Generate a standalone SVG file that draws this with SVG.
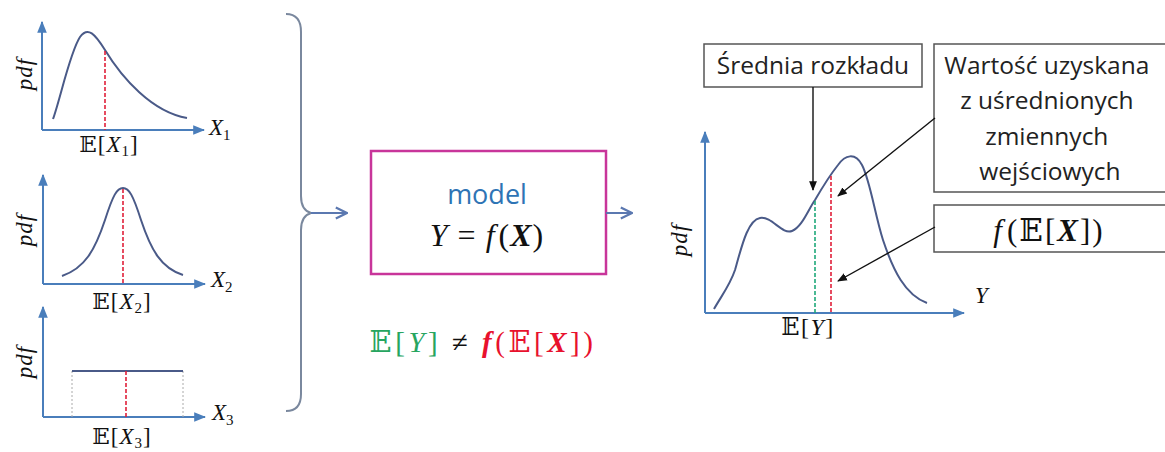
<svg xmlns="http://www.w3.org/2000/svg" width="1165" height="452" viewBox="0 0 1165 452">
<defs>
<marker id="ab" viewBox="0 0 10 10" refX="9" refY="5" markerWidth="6" markerHeight="6" orient="auto"><path d="M0,1 L10,5 L0,9 z" fill="#4a7ebb"/></marker>
<marker id="ao" viewBox="0 0 10 10" refX="9" refY="5" markerWidth="7" markerHeight="7" orient="auto"><path d="M1,1 L9,5 L1,9" fill="none" stroke="#5b78b0" stroke-width="1.6"/></marker>
<marker id="ak" viewBox="0 0 10 10" refX="9" refY="5" markerWidth="7" markerHeight="7" orient="auto"><path d="M0,1 L10,5 L0,9 z" fill="#111"/></marker>
</defs>
<style>
.ax{stroke:#4a7ebb;stroke-width:2;fill:none;marker-end:url(#ab)}
.cv{stroke:#4a5a88;stroke-width:2;fill:none}
.rd{stroke:#e0203a;stroke-width:1.6;stroke-dasharray:4,2;fill:none}
.gd{stroke:#1fa87a;stroke-width:1.6;stroke-dasharray:4,2;fill:none}
.m{font-family:"Liberation Serif","DejaVu Serif",serif;fill:#111}
.mi{font-family:"Liberation Serif","DejaVu Serif",serif;font-style:italic;fill:#111}
.bb{font-family:"DejaVu Serif","DejaVu Sans",serif;fill:#111}
.lb{font-family:"Open Sans","Liberation Sans",sans-serif;fill:#222}
.bx{fill:#fff;stroke:#555;stroke-width:1.5}
.ck{stroke:#111;stroke-width:1.4;fill:none;marker-end:url(#ak)}
</style>
<rect width="1165" height="452" fill="#fff"/>

<g id="plot1">
<path class="ax" d="M42,130 V22"/>
<path class="ax" d="M42,130 H204"/>
<path class="cv" d="M53,119 C60,100 70,52 80,37 C88,26 95,34 105,50 C122,78 152,112 187,118"/>
<path class="rd" d="M105,51 V130"/>
<text class="mi" font-size="23" letter-spacing="1" transform="translate(32,74) rotate(-90)" text-anchor="middle">pdf</text>
<text class="mi" x="209" y="135" font-size="23">X<tspan font-size="15" dy="5" font-style="normal">1</tspan></text>
<text x="109" y="152" font-size="23" letter-spacing="1" text-anchor="middle"><tspan class="bb">𝔼</tspan><tspan class="m">[</tspan><tspan class="mi">X</tspan><tspan class="m" font-size="15" dy="4">1</tspan><tspan class="m" dy="-4">]</tspan></text>
</g>

<g id="plot2">
<path class="ax" d="M43,284 V175"/>
<path class="ax" d="M43,284 H205"/>
<path class="cv" d="M62,276 C85,268 95,250 105,220 C113,195 117,188 123,188 C129,188 133,195 141,220 C151,250 161,268 183,275"/>
<path class="rd" d="M123,189 V284"/>
<text class="mi" font-size="23" letter-spacing="1" transform="translate(32,230) rotate(-90)" text-anchor="middle">pdf</text>
<text class="mi" x="211" y="287" font-size="23">X<tspan font-size="15" dy="5" font-style="normal">2</tspan></text>
<text x="122" y="309" font-size="23" letter-spacing="1" text-anchor="middle"><tspan class="bb">𝔼</tspan><tspan class="m">[</tspan><tspan class="mi">X</tspan><tspan class="m" font-size="15" dy="4">2</tspan><tspan class="m" dy="-4">]</tspan></text>
</g>

<g id="plot3">
<path class="ax" d="M43,417 V307"/>
<path class="ax" d="M43,417 H205"/>
<path d="M72,371 V417 M183,371 V417" stroke="#aaa" stroke-width="1" stroke-dasharray="2,2" fill="none"/>
<path class="cv" d="M72,371 H183" stroke-width="1.6"/>
<path class="rd" d="M126,371 V417"/>
<text class="mi" font-size="23" letter-spacing="1" transform="translate(32,362) rotate(-90)" text-anchor="middle">pdf</text>
<text class="mi" x="212" y="420" font-size="23">X<tspan font-size="15" dy="5" font-style="normal">3</tspan></text>
<text x="122" y="444" font-size="23" letter-spacing="1" text-anchor="middle"><tspan class="bb">𝔼</tspan><tspan class="m">[</tspan><tspan class="mi">X</tspan><tspan class="m" font-size="15" dy="4">3</tspan><tspan class="m" dy="-4">]</tspan></text>
</g>

<g id="brace">
<path d="M286,14 C296,14 301,20 301,32 V196 C301,206 304,211 311,213 C304,215 301,220 301,230 V394 C301,405 296,411 286,411" fill="none" stroke="#7a889e" stroke-width="2"/>
</g>

<g id="model">
<rect x="371" y="151" width="235" height="123" fill="#fff" stroke="#c8359a" stroke-width="2.5"/>
<text class="lb" x="487" y="204" font-size="27" text-anchor="middle" style="fill:#2e74b5">model</text>
<text x="487" y="246" font-size="32" letter-spacing="1" text-anchor="middle"><tspan class="mi">Y</tspan><tspan class="m"> = </tspan><tspan class="mi">f</tspan><tspan class="m" dx="3">(</tspan><tspan class="mi" font-weight="bold">X</tspan><tspan class="m">)</tspan></text>
</g>

<g id="inequality">
<text x="483" y="352" font-size="29" letter-spacing="3.5" text-anchor="middle"><tspan class="bb" style="fill:#27a560">𝔼</tspan><tspan class="m" style="fill:#27a560">[</tspan><tspan class="mi" style="fill:#27a560">Y</tspan><tspan class="m" style="fill:#27a560">]</tspan><tspan class="m"> ≠ </tspan><tspan class="mi" font-weight="bold" style="fill:#e8112d">f</tspan><tspan class="m" style="fill:#e8112d">(</tspan><tspan class="bb" style="fill:#e8112d">𝔼</tspan><tspan class="m" style="fill:#e8112d">[</tspan><tspan class="mi" font-weight="bold" style="fill:#e8112d">X</tspan><tspan class="m" style="fill:#e8112d">])</tspan></text>
</g>

<g id="plotY">
<path class="ax" d="M705,313 V132"/>
<path class="ax" d="M705,313 H964"/>
<path class="cv" d="M714,309 C722,295 730,285 735,270 C742,245 748,220 760,218 C772,216 782,235 792,231 C802,227 808,210 815,200 C822,188 830,175 838,165 C845,155 855,152 862,165 C870,180 875,215 883,240 C893,270 905,295 927,303"/>
<path class="gd" d="M815,201 V313"/>
<path class="rd" d="M831,176 V313"/>
<text class="mi" font-size="23" letter-spacing="1" transform="translate(687,240) rotate(-90)" text-anchor="middle">pdf</text>
<text class="mi" x="975" y="303" font-size="23">Y</text>
<text x="808" y="335" font-size="24" letter-spacing="1.5" text-anchor="middle"><tspan class="bb">𝔼</tspan><tspan class="m">[</tspan><tspan class="mi">Y</tspan><tspan class="m">]</tspan></text>
</g>

<g id="box-srednia">
<rect class="bx" x="704" y="44" width="218" height="43"/>
<text class="lb" x="813" y="74" font-size="24.5" text-anchor="middle">Średnia rozkładu</text>
</g>

<g id="box-wartosc">
<rect class="bx" x="934" y="44" width="236" height="148"/>
<text class="lb" font-size="24.5" text-anchor="middle">
<tspan x="1050" y="74">Wartość uzyskana</tspan>
<tspan x="1050" y="109">z uśrednionych</tspan>
<tspan x="1050" y="145">zmiennych</tspan>
<tspan x="1050" y="180">wejściowych</tspan>
</text>
</g>

<g id="box-fEX">
<rect class="bx" x="934" y="205" width="236" height="47"/>
<text x="1049" y="241" font-size="31" letter-spacing="2" text-anchor="middle"><tspan class="mi">f</tspan><tspan class="m" dx="3">(</tspan><tspan class="bb">𝔼</tspan><tspan class="m">[</tspan><tspan class="mi" font-weight="bold">X</tspan><tspan class="m">])</tspan></text>
</g>

<g id="connectors">
<path d="M311,213 H347" fill="none" stroke="#5b78b0" stroke-width="2" marker-end="url(#ao)"/>
<path d="M606,213 H632" fill="none" stroke="#5b78b0" stroke-width="2" marker-end="url(#ao)"/>
<path class="ck" d="M813,87 V190"/>
<path class="ck" d="M935,118 L838,196"/>
<path class="ck" d="M935,227 L838,281"/>
</g>
</svg>
